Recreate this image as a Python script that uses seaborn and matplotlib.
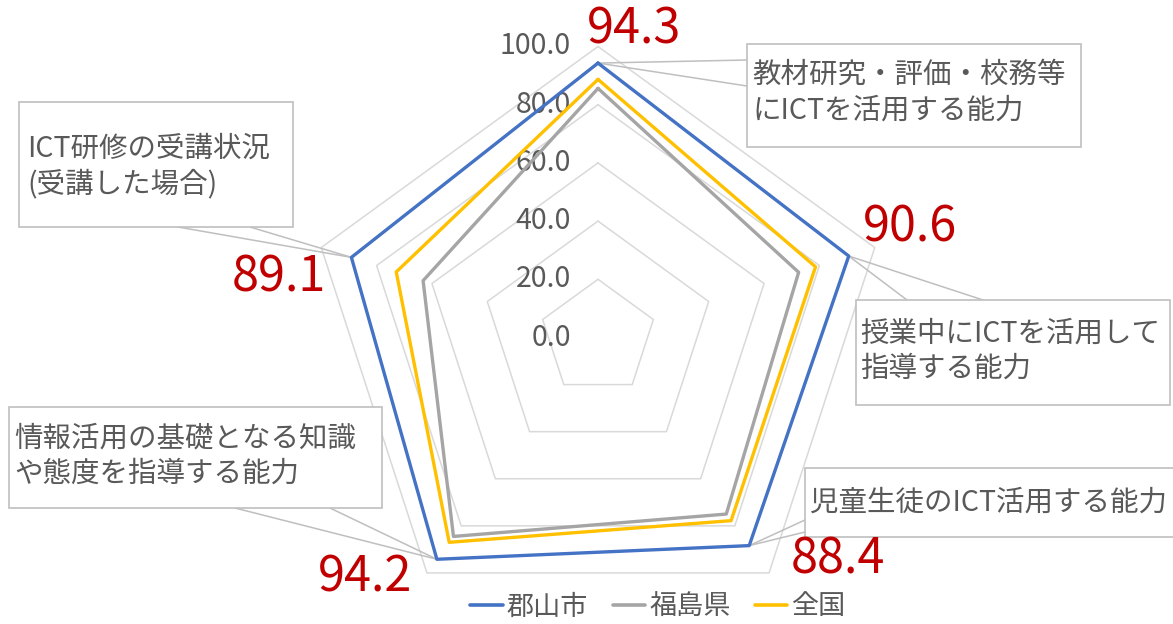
import numpy as np
import pandas as pd
import matplotlib
matplotlib.use("Agg")
import matplotlib.pyplot as plt
from matplotlib.lines import Line2D
from matplotlib.patches import Rectangle
import seaborn as sns

# ---------------- data ----------------
categories = [
    "教材研究・評価・校務等\nにICTを活用する能力",
    "授業中にICTを活用して\n指導する能力",
    "児童生徒のICT活用する能力",
    "情報活用の基礎となる知識\nや態度を指導する能力",
    "ICT研修の受講状況\n(受講した場合)",
]
series_names = ["郡山市", "福島県", "全国"]
koriyama = [94.3, 90.6, 88.4, 94.2, 89.1]
fukushima = [85.6, 72.5, 75.0, 84.5, 63.2]
zenkoku = [88.7, 78.6, 77.8, 87.0, 72.9]
tick_values = [0, 20, 40, 60, 80, 100]
tick_labels = ["0.0", "20.0", "40.0", "60.0", "80.0", "100.0"]

colors = {"郡山市": "#4472C4", "福島県": "#A5A5A5", "全国": "#FFC000"}

# ---------------- style ----------------
sns.set_style("white")
plt.rcParams["font.family"] = ["Noto Sans CJK JP", "DejaVu Sans"]

W, H, DPI = 1173, 624, 100
fig = plt.figure(figsize=(W / DPI, H / DPI), dpi=DPI)
ax = fig.add_axes([0, 0, 1, 1])

# layout: centre of the radar in pixels and px per value unit
CX, CY, K = 598.0, 337.5, 2.91

n = len(categories)
theta = np.arange(n) * 2 * np.pi / n


def xy(vals):
    v = np.asarray(vals, dtype=float)
    return v * np.sin(theta), v * np.cos(theta)


def fp(x, y):
    """top-left pixel coords -> figure fraction"""
    return x / W, 1 - y / H


# grid pentagons
for tv in tick_values[1:]:
    gx, gy = xy([tv] * n)
    ax.plot(np.append(gx, gx[0]), np.append(gy, gy[0]), color="#D9D9D9", lw=1.1, zorder=1)

# tick labels
for tv, tl in zip(tick_values, tick_labels):
    ax.annotate(tl, xy=(0, tv), xycoords="data", xytext=(-27, 0), textcoords="offset pixels",
                ha="right", va="center", fontsize=20.5, color="#595959", zorder=3)

# series
rows = []
for name, vals in zip(series_names, [koriyama, fukushima, zenkoku]):
    sx, sy = xy(vals)
    for i in list(range(n)) + [0]:
        rows.append({"series": name, "x": sx[i], "y": sy[i]})
df = pd.DataFrame(rows)
plot_order = ["福島県", "全国", "郡山市"]
for name in plot_order:
    sns.lineplot(data=df[df.series == name], x="x", y="y", sort=False, estimator=None,
                 color=colors[name], lw=2.4, ax=ax, legend=False, zorder=4)
ax.set_xlim(-CX / K, (W - CX) / K)
ax.set_ylim(-(H - CY) / K, CY / K)
ax.set_axis_off()

# callout boxes (pixel layout): box (x0,y0,x1,y1), text origin, leader starts
boxes = [
    ((747, 44, 1081, 147), (752, 93), [(747, 60), (747, 86)]),
    ((856, 300, 1170, 405), (860, 351), [(907, 300), (983, 300)]),
    ((805, 468, 1185, 537), (810, 503), [(805, 520), (805, 532)]),
    ((9, 407, 382, 508), (14, 456), [(235, 508), (330, 508)]),
    ((19, 102, 293, 227), (27, 167), [(178, 227), (250, 227)]),
]
bx, by = xy(koriyama)
for i, ((x0, y0, x1, y1), (tx, ty), leads) in enumerate(boxes):
    rx, ry = fp(x0, y1)
    rect = Rectangle((rx, ry), (x1 - x0) / W, (y1 - y0) / H, transform=fig.transFigure,
                     facecolor="white", edgecolor="#BFBFBF", lw=1.2, zorder=5)
    fig.add_artist(rect)
    fig.text(*fp(tx, ty), categories[i], ha="left", va="center", fontsize=20.5,
             color="#595959", linespacing=1.25, zorder=6)
    for (lx, ly) in leads:
        ax.annotate("", xy=(bx[i], by[i]), xycoords="data", xytext=fp(lx, ly),
                    textcoords="figure fraction",
                    arrowprops=dict(arrowstyle="-", color="#BFBFBF", lw=1.1,
                                    shrinkA=0, shrinkB=0), zorder=2)

# red value labels
label_pos = [(634, 30), (910, 228), (838, 560), (365, 578), (279, 278)]
for v, (lx, ly) in zip(koriyama, label_pos):
    fig.text(*fp(lx, ly), f"{v:.1f}", ha="center", va="center", fontsize=35,
             color="#C00000", zorder=7)

# legend
handles = [Line2D([0], [0], color=colors[s], lw=2.6) for s in series_names]
fig.legend(handles, series_names, loc="center", bbox_to_anchor=fp(658, 607), ncol=3,
           frameon=False, fontsize=19.5, handlelength=1.2, handletextpad=0.15,
           columnspacing=0.9, labelcolor="#595959")

fig.savefig("out.png", dpi=DPI)
